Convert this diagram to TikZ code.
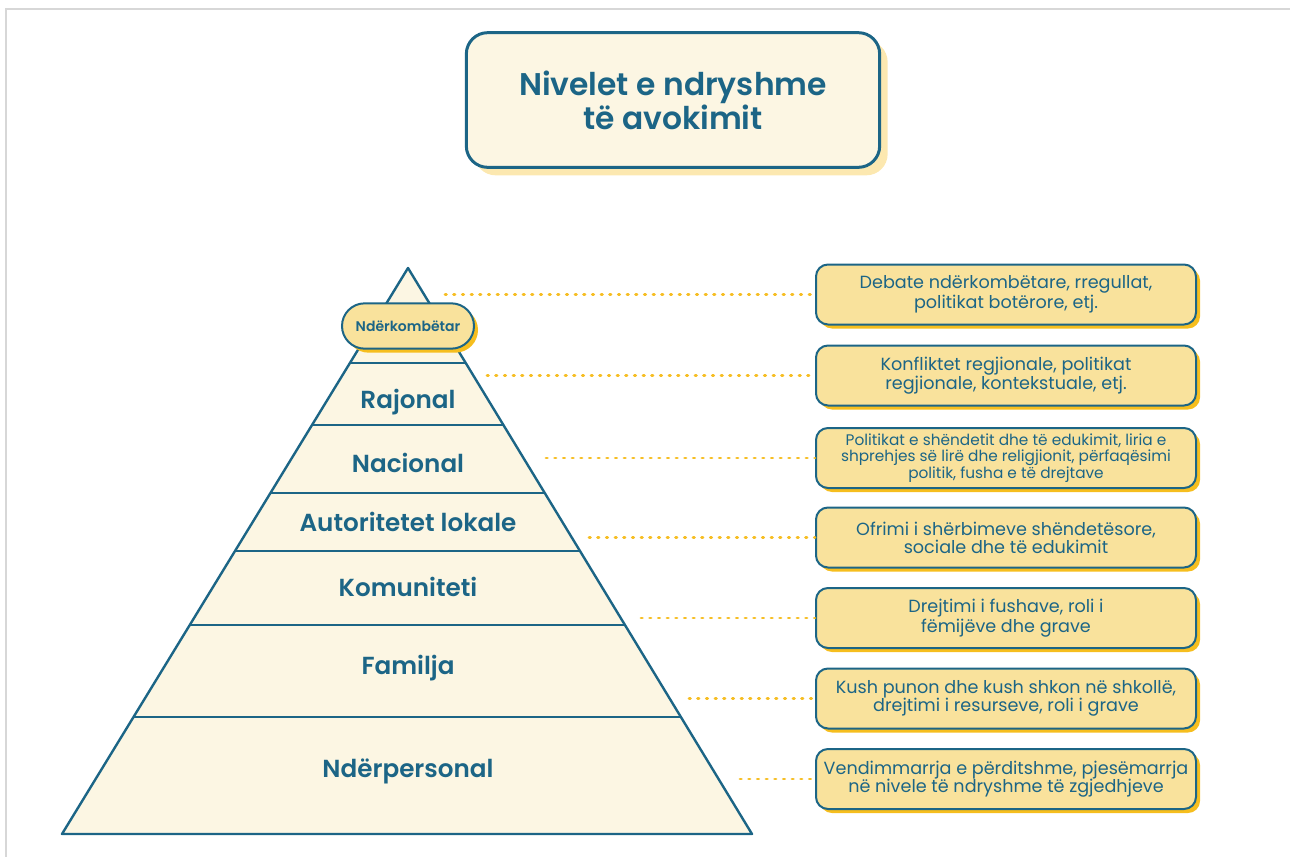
\documentclass[tikz,border=0pt]{standalone}
\usepackage{fontspec}
\setmainfont{Poppins}[BoldFont={Poppins SemiBold}]
\usetikzlibrary{shadows}

\definecolor{tealblue}{RGB}{28,101,134}
\definecolor{creamfill}{RGB}{252,246,227}
\definecolor{sandfill}{RGB}{249,226,156}
\definecolor{goldshadow}{RGB}{246,190,30}
\definecolor{paleshadow}{RGB}{252,232,176}
\definecolor{dotgold}{RGB}{246,190,36}
\definecolor{pageline}{RGB}{215,215,215}

\tikzset{every picture/.style={line width=0.75pt}}
\tikzset{
  levelbox/.style={draw=tealblue, line width=1.5pt, fill=sandfill, rounded corners=9pt,
    minimum width=285pt, minimum height=45pt, align=center, text=tealblue,
    font=\fontsize{13.2}{13.5}\selectfont, inner sep=2pt,
    drop shadow={shadow xshift=3pt, shadow yshift=-3pt, fill=goldshadow, opacity=1}},
  levelname/.style={text=tealblue, font=\fontsize{18.5}{20}\selectfont\bfseries},
  dotline/.style={draw=dotgold, line width=2.2pt, line cap=round, dash pattern=on 1pt off 5.5pt},
}

\begin{document}
\begin{tikzpicture}[x=0.75pt,y=0.75pt,yscale=-1,xscale=1]
\useasboundingbox (0,0) rectangle (1290,857);

%page edge
\draw [pageline, line width=1.2pt] (6,857) -- (6,9) -- (1290,9) ;

%Title box
\node [draw=tealblue, line width=2.25pt, fill=creamfill, rounded corners=16pt,
  minimum width=310pt, minimum height=101pt, align=center, text=tealblue,
  font=\fontsize{23.5}{21.5}\selectfont\bfseries,
  drop shadow={shadow xshift=6pt, shadow yshift=-6pt, fill=paleshadow, opacity=1}]
  (title) at (673,100) {Nivelet e ndryshme\\ të avokimit};

%Pyramid
\draw [draw=tealblue, line width=1.8pt, fill=creamfill, line join=round] (408,268) -- (752,834) -- (62,834) -- cycle ;
\draw [draw=tealblue, line width=1.8pt] (350.1,363) -- (465.9,363) ;
\draw [draw=tealblue, line width=1.8pt] (312.3,425) -- (503.7,425) ;
\draw [draw=tealblue, line width=1.8pt] (270.9,493) -- (545.1,493) ;
\draw [draw=tealblue, line width=1.8pt] (235.5,551) -- (580.5,551) ;
\draw [draw=tealblue, line width=1.8pt] (190.4,625) -- (625.6,625) ;
\draw [draw=tealblue, line width=1.8pt] (134.3,717) -- (681.7,717) ;

%Level names
\node [draw=tealblue, line width=1.5pt, fill=sandfill, rounded corners=17pt,
  minimum width=99pt, minimum height=34pt, text=tealblue,
  font=\fontsize{10.5}{11}\selectfont\bfseries,
  drop shadow={shadow xshift=3pt, shadow yshift=-3pt, fill=goldshadow, opacity=1}]
  (intl) at (408,326) {Ndërkombëtar};
\node [levelname] (regional) at (408,402) {Rajonal};
\node [levelname] (national) at (408,463) {Nacional};
\node [levelname] (local) at (408,522) {Autoritetet lokale};
\node [levelname] (community) at (408,587) {Komuniteti};
\node [levelname] (family) at (408,668) {Familja};
\node [levelname] (personal) at (408,771) {Ndërpersonal};

%Description boxes
\node [levelbox] (dintl) at (1006,294.5) {Debate ndërkombëtare, rregullat,\\ politikat botërore, etj.};
\node [levelbox] (dregional) at (1006,375.5) {Konfliktet regjionale, politikat\\ regjionale, kontekstuale, etj.};
\node [levelbox, font=\fontsize{11.5}{12.2}\selectfont] (dnational) at (1006,458) {Politikat e shëndetit dhe të edukimit, liria e\\ shprehjes së lirë dhe religjionit, përfaqësimi\\ politik, fusha e të drejtave};
\node [levelbox] (dlocal) at (1006,537.5) {Ofrimi i shërbimeve shëndetësore,\\ sociale dhe të edukimit};
\node [levelbox] (dcommunity) at (1006,618) {Drejtimi i fushave, roli i\\ fëmijëve dhe grave};
\node [levelbox] (dfamily) at (1006,698.5) {Kush punon dhe kush shkon në shkollë,\\ drejtimi i resurseve, roli i grave};
\node [levelbox] (dpersonal) at (1006,779) {Vendimmarrja e përditshme, pjesëmarrja\\ në nivele të ndryshme të zgjedhjeve};

%Dotted connectors
\coordinate (cintl) at (445,294.5);
\coordinate (cregional) at (487,375.5);
\coordinate (cnational) at (546,458);
\coordinate (clocal) at (589,537.5);
\coordinate (ccommunity) at (641,618);
\coordinate (cfamily) at (689,698.5);
\coordinate (cpersonal) at (740,779);
\foreach \n in {intl,regional,national,local,community,family,personal}
  \draw [dotline] (c\n) -- (d\n.west) ;

\end{tikzpicture}
\end{document}
